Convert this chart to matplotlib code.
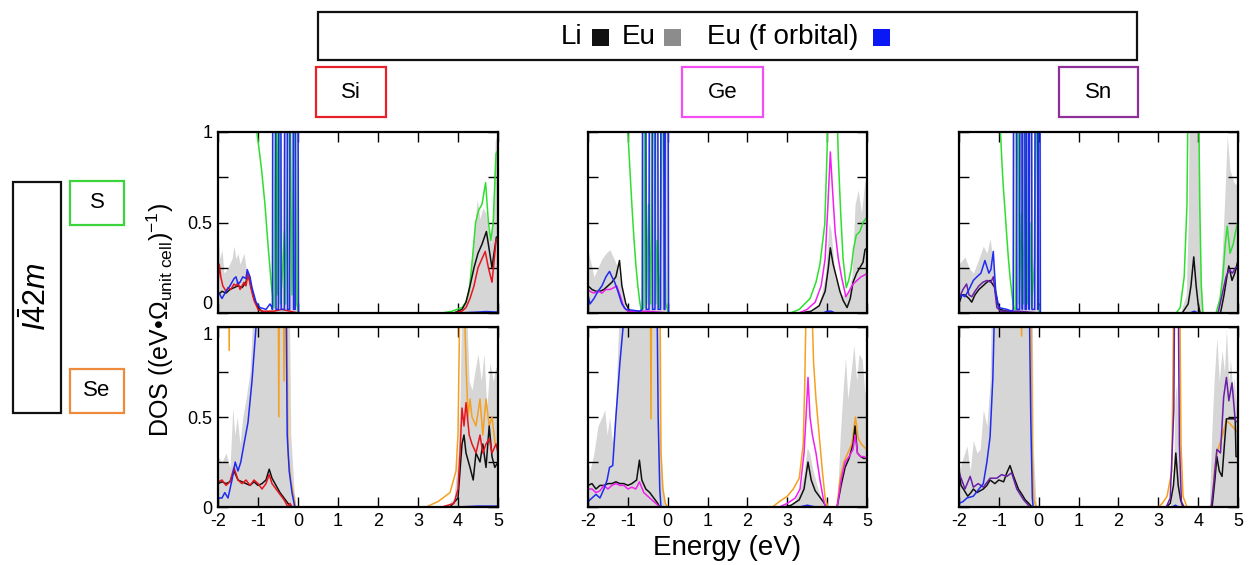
import numpy as np
import matplotlib
matplotlib.use("Agg")
import matplotlib.pyplot as plt
from matplotlib.patches import Rectangle

plt.rcParams["font.family"] = ["Liberation Sans", "DejaVu Sans"]
plt.rcParams["mathtext.fontset"] = "custom"
plt.rcParams["mathtext.rm"] = "Liberation Sans"
plt.rcParams["mathtext.it"] = "Liberation Sans:italic"

# (energy eV, DOS) pairs for every curve; values > 1 run off the top of the axes
# ---- Si, S
si_s_eu = [(-2.0, 0.45), (-1.95, 0.3), (-1.9, 0.35), (-1.85, 0.22), (-1.75, 0.25), (-1.65, 0.3),
           (-1.6, 0.37), (-1.55, 0.3), (-1.5, 0.33), (-1.45, 0.27), (-1.4, 0.3), (-1.35, 0.33),
           (-1.3, 0.25), (-1.25, 0.2), (-1.2, 0.18), (-1.15, 0.1), (-1.05, 0.03), (-0.95, 0.01),
           (-0.7, 0.02), (-0.64, 0.05), (-0.62, 1.5), (-0.54, 1.5), (-0.52, 0.4), (-0.5, 1.5),
           (-0.42, 1.5), (-0.4, 0.3), (-0.36, 1.5), (-0.26, 1.5), (-0.24, 0.3), (-0.21, 1.5),
           (-0.1, 1.5), (-0.08, 0.5), (-0.07, 1.5), (0.0, 1.5), (0.03, 0.0), (3.7, 0.0), (3.9, 0.01),
           (4.1, 0.03), (4.2, 0.08), (4.3, 0.2), (4.4, 0.45), (4.48, 0.63), (4.55, 0.52), (4.62, 0.58),
           (4.7, 0.55), (4.76, 0.45), (4.82, 0.38), (4.88, 0.6), (4.93, 0.95), (5.0, 1.0)]
si_s_li = [(-2.0, 0.1), (-1.9, 0.12), (-1.8, 0.11), (-1.7, 0.13), (-1.6, 0.14), (-1.5, 0.15),
           (-1.4, 0.14), (-1.3, 0.17), (-1.25, 0.22), (-1.2, 0.17), (-1.1, 0.08), (-1.0, 0.03),
           (-0.9, 0.01), (-0.8, 0.0), (3.9, 0.0), (4.1, 0.02), (4.2, 0.06), (4.3, 0.15), (4.4, 0.25),
           (4.5, 0.33), (4.6, 0.38), (4.71, 0.45), (4.78, 0.35), (4.85, 0.25), (4.9, 0.33),
           (4.96, 0.42), (5.0, 0.4)]
si_s_euf = [(-2.0, 0.12), (-1.95, 0.1), (-1.9, 0.08), (-1.8, 0.12), (-1.7, 0.15), (-1.6, 0.19),
            (-1.55, 0.2), (-1.5, 0.16), (-1.45, 0.17), (-1.38, 0.2), (-1.3, 0.19), (-1.27, 0.24),
            (-1.2, 0.2), (-1.15, 0.14), (-1.05, 0.06), (-0.95, 0.03), (-0.8, 0.02), (-0.7, 0.05),
            (-0.65, 0.03), (-0.64, 0.02), (-0.63, 1.5), (-0.56, 1.5), (-0.55, 0.02), (-0.49, 0.02),
            (-0.48, 1.5), (-0.43, 1.5), (-0.42, 0.02), (-0.34, 0.02), (-0.33, 1.5), (-0.27, 1.5),
            (-0.26, 0.02), (-0.21, 0.02), (-0.2, 1.5), (-0.12, 1.5), (-0.11, 0.02), (-0.07, 0.02),
            (-0.06, 1.5), (0.0, 1.5), (0.01, 0.0), (4.0, 0.0), (4.5, 0.005), (4.7, 0.008), (5.0, 0.005)]
si_s_s = [(-2.0, 1.5), (-1.05, 1.5), (-1.03, 1.0), (-0.97, 0.9), (-0.91, 0.79), (-0.83, 0.61),
          (-0.74, 0.35), (-0.66, 0.14), (-0.6, 0.03), (-0.55, 1.5), (-0.52, 0.1), (-0.48, 1.5),
          (-0.44, 0.05), (-0.38, 0.25), (-0.34, 0.45), (-0.31, 0.05), (-0.22, 1.5), (-0.15, 0.1),
          (-0.09, 1.5), (-0.03, 0.05), (0.02, 0.0), (3.6, 0.0), (3.85, 0.01), (4.1, 0.03), (4.2, 0.06),
          (4.28, 0.12), (4.36, 0.3), (4.44, 0.5), (4.52, 0.57), (4.6, 0.6), (4.69, 0.72), (4.76, 0.5),
          (4.82, 0.4), (4.88, 0.5), (4.95, 0.88), (5.0, 0.9)]
si_s_si = [(-2.0, 0.15), (-1.97, 0.27), (-1.93, 0.2), (-1.88, 0.15), (-1.8, 0.12), (-1.75, 0.14),
           (-1.68, 0.13), (-1.6, 0.16), (-1.55, 0.15), (-1.5, 0.17), (-1.45, 0.13), (-1.4, 0.15),
           (-1.35, 0.17), (-1.3, 0.15), (-1.25, 0.22), (-1.18, 0.14), (-1.1, 0.07), (-1.0, 0.02),
           (-0.9, 0.01), (-0.6, 0.01), (-0.4, 0.02), (-0.2, 0.01), (0.0, 0.0), (3.9, 0.0), (4.1, 0.01),
           (4.2, 0.03), (4.3, 0.08), (4.4, 0.15), (4.5, 0.25), (4.6, 0.3), (4.68, 0.34), (4.76, 0.25),
           (4.85, 0.17), (4.9, 0.28), (4.95, 0.4), (5.0, 0.42)]

# ---- Si, Se
si_se_eu = [(-2.0, 0.28), (-1.9, 0.25), (-1.8, 0.3), (-1.7, 0.22), (-1.63, 0.55), (-1.58, 0.4),
            (-1.52, 0.5), (-1.45, 0.35), (-1.38, 0.5), (-1.3, 0.6), (-1.2, 0.75), (-1.1, 1.2),
            (-0.22, 1.2), (-0.18, 0.4), (-0.1, 0.1), (-0.05, 0.0), (3.7, 0.0), (3.9, 0.05), (4.0, 0.3),
            (4.05, 0.6), (4.1, 1.2), (4.2, 1.2), (4.28, 0.7), (4.35, 0.65), (4.42, 0.75), (4.5, 0.85),
            (4.58, 0.7), (4.65, 0.85), (4.72, 0.55), (4.8, 0.8), (4.88, 0.7), (4.95, 0.78), (5.0, 0.75)]
si_se_li = [(-2.0, 0.13), (-1.9, 0.14), (-1.8, 0.13), (-1.7, 0.14), (-1.6, 0.2), (-1.5, 0.15),
            (-1.4, 0.14), (-1.3, 0.13), (-1.2, 0.12), (-1.1, 0.14), (-1.0, 0.12), (-0.9, 0.13),
            (-0.8, 0.15), (-0.72, 0.21), (-0.65, 0.16), (-0.55, 0.12), (-0.45, 0.08), (-0.35, 0.05),
            (-0.25, 0.02), (-0.15, 0.0), (3.8, 0.0), (4.0, 0.05), (4.05, 0.2), (4.1, 0.35), (4.15, 0.4),
            (4.2, 0.3), (4.3, 0.22), (4.38, 0.15), (4.45, 0.3), (4.55, 0.25), (4.62, 0.35), (4.7, 0.22),
            (4.78, 0.45), (4.85, 0.28), (4.92, 0.22), (5.0, 0.25)]
si_se_euf = [(-2.0, 0.05), (-1.9, 0.05), (-1.83, 0.08), (-1.75, 0.05), (-1.65, 0.15), (-1.57, 0.25),
             (-1.5, 0.2), (-1.43, 0.25), (-1.35, 0.35), (-1.25, 0.47), (-1.15, 0.7), (-1.05, 1.0),
             (-0.95, 1.2), (-0.3, 1.2), (-0.27, 0.4), (-0.22, 0.2), (-0.15, 0.08), (-0.08, 0.0),
             (4.0, 0.0), (4.5, 0.005), (5.0, 0.005)]
si_se_se = [(-2.0, 1.5), (-1.74, 1.5), (-1.72, 0.87), (-1.7, 1.5), (-0.5, 1.5), (-0.48, 0.5),
            (-0.46, 1.5), (-0.37, 1.5), (-0.35, 0.7), (-0.33, 1.5), (-0.28, 1.2), (-0.25, 0.3),
            (-0.18, 0.15), (-0.1, 0.05), (-0.06, 0.0), (3.2, 0.0), (3.5, 0.03), (3.8, 0.08), (3.95, 0.2),
            (4.0, 0.4), (4.05, 1.2), (4.15, 1.2), (4.2, 0.8), (4.25, 0.5), (4.3, 0.6), (4.35, 0.5),
            (4.45, 0.45), (4.55, 0.6), (4.62, 0.4), (4.7, 0.6), (4.78, 0.45), (4.85, 0.5), (4.93, 0.35),
            (5.0, 0.35)]
si_se_si = [(-2.0, 0.14), (-1.9, 0.15), (-1.8, 0.12), (-1.7, 0.14), (-1.6, 0.22), (-1.5, 0.15),
            (-1.4, 0.13), (-1.3, 0.15), (-1.2, 0.12), (-1.1, 0.15), (-1.0, 0.13), (-0.9, 0.1),
            (-0.8, 0.13), (-0.72, 0.18), (-0.65, 0.13), (-0.55, 0.1), (-0.45, 0.07), (-0.35, 0.04),
            (-0.25, 0.0), (-0.2, 0.02), (-0.15, 0.0), (3.6, 0.0), (3.9, 0.02), (4.0, 0.1), (4.05, 0.3),
            (4.1, 0.55), (4.15, 0.45), (4.2, 0.58), (4.28, 0.4), (4.35, 0.35), (4.45, 0.3), (4.55, 0.4),
            (4.62, 0.3), (4.7, 0.35), (4.78, 0.38), (4.85, 0.3), (4.95, 0.35), (5.0, 0.3)]

# ---- Ge, S
ge_s_eu = [(-2.0, 0.35), (-1.95, 0.3), (-1.85, 0.2), (-1.75, 0.25), (-1.65, 0.3), (-1.55, 0.33),
           (-1.45, 0.35), (-1.35, 0.3), (-1.25, 0.25), (-1.15, 0.12), (-1.05, 0.02), (-0.9, 0.0),
           (-0.7, 0.01), (-0.65, 0.05), (-0.63, 1.5), (-0.54, 1.5), (-0.52, 0.3), (-0.46, 1.5),
           (-0.38, 1.5), (-0.36, 0.3), (-0.31, 1.5), (-0.25, 1.5), (-0.23, 0.3), (-0.17, 1.5),
           (-0.1, 1.5), (-0.08, 0.3), (-0.06, 1.5), (0.01, 1.5), (0.03, 0.0), (3.6, 0.0), (3.8, 0.05),
           (3.95, 0.2), (4.05, 0.5), (4.1, 0.45), (4.2, 0.2), (4.35, 0.1), (4.5, 0.1), (4.62, 0.2),
           (4.7, 0.6), (4.78, 0.68), (4.86, 0.55), (4.94, 0.72), (5.0, 0.75)]
ge_s_li = [(-2.0, 0.15), (-1.9, 0.13), (-1.8, 0.12), (-1.7, 0.12), (-1.6, 0.13), (-1.5, 0.15),
           (-1.4, 0.17), (-1.3, 0.2), (-1.25, 0.25), (-1.21, 0.29), (-1.15, 0.15), (-1.05, 0.05),
           (-0.95, 0.01), (-0.8, 0.0), (3.3, 0.0), (3.6, 0.01), (3.8, 0.04), (3.95, 0.12), (4.03, 0.25),
           (4.08, 0.36), (4.15, 0.27), (4.23, 0.2), (4.32, 0.12), (4.4, 0.07), (4.5, 0.03), (4.58, 0.08),
           (4.65, 0.17), (4.74, 0.22), (4.82, 0.25), (4.9, 0.28), (4.95, 0.35), (5.0, 0.36)]
ge_s_euf = [(-2.0, 0.1), (-1.95, 0.05), (-1.85, 0.08), (-1.75, 0.12), (-1.65, 0.15), (-1.55, 0.2),
            (-1.46, 0.23), (-1.4, 0.2), (-1.33, 0.17), (-1.25, 0.12), (-1.15, 0.05), (-1.05, 0.02),
            (-0.7, 0.01), (-0.64, 0.02), (-0.63, 1.5), (-0.55, 1.5), (-0.54, 0.02), (-0.47, 0.02),
            (-0.46, 1.5), (-0.39, 1.5), (-0.38, 0.02), (-0.32, 0.02), (-0.31, 1.5), (-0.25, 1.5),
            (-0.24, 0.02), (-0.18, 0.02), (-0.17, 1.5), (-0.1, 1.5), (-0.09, 0.02), (-0.07, 0.02),
            (-0.06, 1.5), (0.01, 1.5), (0.02, 0.0), (3.9, 0.0), (4.0, 0.01), (4.1, 0.01),
            (4.2, 0.0), (5.0, 0.0)]
ge_s_s = [(-2.0, 1.5), (-1.02, 1.5), (-1.0, 1.0), (-0.95, 0.8), (-0.9, 0.6), (-0.85, 0.42),
          (-0.8, 0.27), (-0.75, 0.15), (-0.7, 0.06), (-0.66, 0.01), (-0.6, 0.03), (-0.57, 1.5),
          (-0.53, 0.05), (-0.48, 0.6), (-0.43, 0.05), (-0.36, 1.5), (-0.3, 0.05), (-0.27, 0.4),
          (-0.2, 0.03), (-0.12, 1.5), (-0.05, 0.05), (0.03, 0.0), (3.08, 0.0), (3.3, 0.02), (3.57, 0.08),
          (3.72, 0.17), (3.82, 0.27), (3.94, 0.49), (4.0, 0.9), (4.03, 1.5), (4.2, 1.5), (4.28, 0.86),
          (4.34, 0.55), (4.4, 0.3), (4.48, 0.14), (4.54, 0.18), (4.6, 0.24), (4.66, 0.35), (4.73, 0.43),
          (4.82, 0.45), (4.9, 0.5), (5.0, 0.53)]
ge_s_ge = [(-2.0, 0.13), (-1.95, 0.12), (-1.85, 0.11), (-1.75, 0.12), (-1.65, 0.11), (-1.55, 0.13),
           (-1.45, 0.13), (-1.35, 0.14), (-1.28, 0.15), (-1.2, 0.1), (-1.1, 0.03), (-1.0, 0.01),
           (-0.5, 0.01), (0.0, 0.0), (3.29, 0.0), (3.5, 0.02), (3.7, 0.06), (3.85, 0.15), (3.95, 0.3),
           (4.02, 0.6), (4.08, 0.89), (4.13, 0.7), (4.2, 0.45), (4.28, 0.3), (4.36, 0.2), (4.47, 0.09),
           (4.55, 0.12), (4.65, 0.16), (4.75, 0.18), (4.85, 0.2), (4.94, 0.21), (5.0, 0.22)]

# ---- Ge, Se
ge_se_eu = [(-2.0, 0.25), (-1.95, 0.2), (-1.85, 0.3), (-1.75, 0.45), (-1.65, 0.5), (-1.58, 0.54),
            (-1.52, 0.4), (-1.46, 0.5), (-1.38, 0.35), (-1.3, 0.6), (-1.2, 1.2), (-0.22, 1.2),
            (-0.18, 0.4), (-0.12, 0.1), (-0.05, 0.0), (3.1, 0.0), (3.3, 0.08), (3.42, 0.2), (3.5, 0.33),
            (3.56, 0.3), (3.65, 0.2), (3.75, 0.12), (3.85, 0.05), (3.95, 0.0), (4.25, 0.0), (4.33, 0.4),
            (4.4, 0.65), (4.46, 0.83), (4.52, 0.6), (4.6, 0.75), (4.67, 0.9), (4.74, 0.7), (4.8, 0.85),
            (4.88, 0.82), (4.94, 0.65), (5.0, 0.6)]
ge_se_li = [(-2.0, 0.12), (-1.9, 0.13), (-1.8, 0.1), (-1.7, 0.12), (-1.6, 0.12), (-1.5, 0.13),
            (-1.4, 0.13), (-1.3, 0.14), (-1.2, 0.13), (-1.1, 0.13), (-1.0, 0.12), (-0.9, 0.13),
            (-0.78, 0.15), (-0.71, 0.26), (-0.65, 0.15), (-0.55, 0.1), (-0.45, 0.08), (-0.35, 0.05),
            (-0.25, 0.02), (-0.2, 0.0), (2.9, 0.0), (3.1, 0.01), (3.3, 0.04), (3.42, 0.1), (3.52, 0.25),
            (3.6, 0.15), (3.7, 0.09), (3.8, 0.06), (3.9, 0.03), (3.98, 0.0), (4.25, 0.0), (4.35, 0.12),
            (4.45, 0.22), (4.55, 0.27), (4.65, 0.35), (4.7, 0.45), (4.76, 0.3), (4.84, 0.28),
            (4.92, 0.27), (5.0, 0.27)]
ge_se_euf = [(-2.0, 0.03), (-1.9, 0.05), (-1.8, 0.07), (-1.7, 0.05), (-1.6, 0.1), (-1.52, 0.15),
             (-1.46, 0.22), (-1.38, 0.23), (-1.3, 0.5), (-1.2, 0.8), (-1.12, 1.0), (-1.05, 1.2),
             (-0.27, 1.2), (-0.24, 0.5), (-0.2, 0.1), (-0.17, 0.0), (3.3, 0.0), (3.5, 0.01), (3.7, 0.0),
             (5.0, 0.0)]
ge_se_se = [(-2.0, 1.5), (-0.44, 1.5), (-0.42, 0.49), (-0.4, 1.5), (-0.2, 1.5), (-0.17, 0.3),
            (-0.12, 0.1), (-0.06, 0.02), (0.0, 0.0), (2.63, 0.0), (2.8, 0.03), (3.0, 0.06), (3.15, 0.1),
            (3.3, 0.16), (3.4, 0.35), (3.44, 0.7), (3.47, 1.1), (3.62, 1.1), (3.66, 0.8), (3.72, 0.6),
            (3.8, 0.4), (3.88, 0.2), (3.95, 0.05), (4.02, 0.0), (4.25, 0.0), (4.32, 0.15), (4.42, 0.25),
            (4.52, 0.3), (4.62, 0.35), (4.71, 0.5), (4.78, 0.38), (4.86, 0.35), (4.94, 0.33), (5.0, 0.32)]
ge_se_ge = [(-2.0, 0.1), (-1.9, 0.1), (-1.8, 0.08), (-1.7, 0.09), (-1.6, 0.12), (-1.5, 0.1),
            (-1.4, 0.12), (-1.3, 0.13), (-1.2, 0.12), (-1.1, 0.12), (-1.0, 0.1), (-0.9, 0.11),
            (-0.8, 0.1), (-0.71, 0.14), (-0.6, 0.08), (-0.5, 0.06), (-0.4, 0.04), (-0.3, 0.02),
            (-0.2, 0.0), (2.8, 0.0), (3.0, 0.02), (3.2, 0.05), (3.32, 0.1), (3.42, 0.3), (3.47, 0.5),
            (3.52, 0.72), (3.57, 0.5), (3.63, 0.4), (3.72, 0.3), (3.82, 0.15), (3.9, 0.05), (3.96, 0.0),
            (4.25, 0.0), (4.35, 0.15), (4.45, 0.25), (4.55, 0.28), (4.65, 0.32), (4.7, 0.4), (4.76, 0.3),
            (4.84, 0.28), (4.92, 0.28), (5.0, 0.27)]

# ---- Sn, S
sn_s_eu = [(-2.0, 0.27), (-1.85, 0.31), (-1.75, 0.25), (-1.64, 0.22), (-1.5, 0.3), (-1.39, 0.37),
           (-1.3, 0.33), (-1.22, 0.41), (-1.15, 0.3), (-1.08, 0.15), (-1.01, 0.03), (-0.9, 0.0),
           (-0.7, 0.01), (-0.65, 0.05), (-0.63, 1.5), (-0.54, 1.5), (-0.52, 0.3), (-0.47, 1.5),
           (-0.34, 1.5), (-0.32, 0.3), (-0.3, 1.5), (-0.17, 1.5), (-0.15, 0.3), (-0.09, 1.5),
           (0.04, 1.5), (0.06, 0.0), (3.55, 0.0), (3.7, 0.1), (3.75, 0.5), (3.78, 1.2), (4.02, 1.2),
           (4.06, 0.2), (4.12, 0.0), (4.45, 0.0), (4.55, 0.1), (4.62, 0.4), (4.68, 0.7), (4.73, 0.98),
           (4.8, 0.79), (4.9, 0.72), (5.0, 0.7)]
sn_s_li = [(-2.0, 0.05), (-1.93, 0.1), (-1.85, 0.1), (-1.75, 0.08), (-1.68, 0.06), (-1.6, 0.1),
           (-1.5, 0.13), (-1.4, 0.15), (-1.3, 0.17), (-1.22, 0.18), (-1.1, 0.14), (-1.03, 0.05),
           (-0.97, 0.02), (-0.8, 0.01), (-0.5, 0.0), (3.6, 0.0), (3.75, 0.05), (3.82, 0.15), (3.89, 0.31),
           (3.95, 0.15), (4.0, 0.05), (4.05, 0.0), (4.56, 0.0), (4.65, 0.1), (4.72, 0.2), (4.77, 0.26),
           (4.85, 0.18), (4.92, 0.22), (5.0, 0.29)]
sn_s_euf = [(-2.0, 0.08), (-1.93, 0.1), (-1.85, 0.09), (-1.75, 0.13), (-1.64, 0.18), (-1.55, 0.2),
            (-1.45, 0.22), (-1.35, 0.29), (-1.25, 0.22), (-1.2, 0.24), (-1.14, 0.34), (-1.08, 0.12),
            (-1.0, 0.03), (-0.8, 0.02), (-0.67, 0.01), (-0.64, 0.02), (-0.63, 1.5), (-0.56, 1.5),
            (-0.55, 0.02), (-0.48, 0.02), (-0.47, 1.5), (-0.42, 1.5), (-0.41, 0.02), (-0.4, 1.5),
            (-0.35, 1.5), (-0.34, 0.02), (-0.31, 0.02), (-0.3, 1.5), (-0.25, 1.5), (-0.24, 0.02),
            (-0.23, 1.5), (-0.18, 1.5), (-0.17, 0.02), (-0.1, 0.02), (-0.09, 1.5), (-0.03, 1.5),
            (-0.02, 0.02), (-0.01, 1.5), (0.03, 1.5), (0.04, 0.0), (3.8, 0.0), (3.9, 0.01), (4.0, 0.0),
            (5.0, 0.0)]
sn_s_s = [(-2.0, 1.5), (-0.98, 1.5), (-0.96, 1.0), (-0.92, 0.82), (-0.89, 0.7), (-0.84, 0.55),
          (-0.8, 0.42), (-0.76, 0.3), (-0.72, 0.2), (-0.67, 0.1), (-0.63, 0.03), (-0.58, 0.02),
          (-0.52, 1.5), (-0.49, 0.05), (-0.43, 0.55), (-0.38, 0.05), (-0.33, 1.5), (-0.28, 0.05),
          (-0.22, 0.5), (-0.18, 0.03), (-0.1, 0.3), (-0.06, 1.5), (0.0, 0.05), (0.04, 0.0), (3.45, 0.0),
          (3.55, 0.03), (3.65, 0.2), (3.72, 0.6), (3.76, 1.5), (4.0, 1.5), (4.04, 0.6), (4.08, 0.15),
          (4.12, 0.0), (4.45, 0.0), (4.55, 0.08), (4.62, 0.2), (4.68, 0.38), (4.73, 0.48), (4.8, 0.33),
          (4.88, 0.38), (4.94, 0.45), (5.0, 0.51)]
sn_s_sn = [(-2.0, 0.08), (-1.9, 0.13), (-1.81, 0.16), (-1.75, 0.1), (-1.68, 0.09), (-1.6, 0.12),
           (-1.5, 0.15), (-1.4, 0.17), (-1.3, 0.18), (-1.2, 0.17), (-1.14, 0.2), (-1.05, 0.03),
           (-0.95, 0.01), (-0.5, 0.01), (0.0, 0.0), (4.5, 0.0), (4.6, 0.1), (4.7, 0.2), (4.78, 0.24),
           (4.86, 0.22), (4.94, 0.25), (5.0, 0.26)]

# ---- Sn, Se
sn_se_eu = [(-2.0, 0.2), (-1.93, 0.25), (-1.8, 0.34), (-1.72, 0.2), (-1.64, 0.37), (-1.55, 0.3),
            (-1.47, 0.32), (-1.39, 0.54), (-1.3, 0.45), (-1.22, 0.7), (-1.18, 1.2), (-0.17, 1.2),
            (-0.13, 0.3), (-0.08, 0.08), (-0.05, 0.0), (3.3, 0.0), (3.38, 0.15), (3.42, 0.6), (3.46, 0.69),
            (3.5, 0.4), (3.55, 0.05), (3.6, 0.0), (4.28, 0.0), (4.34, 0.4), (4.4, 0.7), (4.47, 0.94),
            (4.53, 0.7), (4.6, 0.87), (4.66, 0.75), (4.71, 0.99), (4.77, 0.7), (4.81, 0.82), (4.87, 0.65),
            (4.9, 0.72), (5.0, 0.45)]
sn_se_li = [(-2.0, 0.21), (-1.95, 0.12), (-1.89, 0.1), (-1.78, 0.06), (-1.7, 0.08), (-1.64, 0.1),
            (-1.55, 0.08), (-1.47, 0.09), (-1.39, 0.1), (-1.3, 0.12), (-1.22, 0.15), (-1.1, 0.13),
            (-1.0, 0.15), (-0.88, 0.14), (-0.8, 0.19), (-0.72, 0.23), (-0.63, 0.17), (-0.51, 0.1),
            (-0.42, 0.07), (-0.34, 0.04), (-0.25, 0.02), (-0.17, 0.0), (3.2, 0.0), (3.3, 0.02),
            (3.38, 0.12), (3.44, 0.3), (3.5, 0.12), (3.56, 0.04), (3.62, 0.0), (4.35, 0.0), (4.42, 0.15),
            (4.47, 0.28), (4.53, 0.2), (4.6, 0.17), (4.66, 0.35), (4.71, 0.49), (4.93, 0.49),
            (4.95, 0.28), (5.0, 0.28)]
sn_se_euf = [(-2.0, 0.02), (-1.9, 0.03), (-1.8, 0.05), (-1.64, 0.06), (-1.5, 0.1), (-1.39, 0.13),
             (-1.3, 0.25), (-1.22, 0.39), (-1.15, 0.72), (-1.12, 1.0), (-1.08, 1.2), (-0.24, 1.2),
             (-0.2, 0.5), (-0.16, 0.05), (-0.14, 0.0), (3.35, 0.0), (3.43, 0.01), (3.5, 0.0), (5.0, 0.0)]
sn_se_se = [(-2.0, 1.5), (-0.45, 1.5), (-0.43, 0.95), (-0.41, 1.5), (-0.2, 1.5), (-0.16, 0.3),
            (-0.12, 0.04), (-0.06, 0.0), (3.0, 0.0), (3.1, 0.02), (3.22, 0.06), (3.34, 0.2), (3.39, 1.2),
            (3.54, 1.2), (3.57, 0.35), (3.62, 0.06), (3.72, 0.0), (4.3, 0.0), (4.35, 0.02), (4.41, 0.2),
            (4.47, 0.3), (4.6, 0.39), (4.71, 0.48), (4.81, 0.46), (4.93, 0.43), (5.0, 0.41)]
sn_se_sn = [(-2.0, 0.19), (-1.93, 0.15), (-1.85, 0.1), (-1.72, 0.17), (-1.64, 0.11), (-1.52, 0.13),
            (-1.39, 0.11), (-1.22, 0.16), (-1.05, 0.16), (-0.93, 0.18), (-0.8, 0.17), (-0.68, 0.19),
            (-0.55, 0.1), (-0.38, 0.04), (-0.22, 0.0), (3.2, 0.0), (3.3, 0.05), (3.39, 0.54), (3.41, 1.2),
            (3.5, 1.2), (3.53, 0.35), (3.58, 0.03), (3.65, 0.0), (4.33, 0.0), (4.4, 0.15), (4.47, 0.32),
            (4.56, 0.3), (4.64, 0.61), (4.71, 0.72), (4.77, 0.59), (4.85, 0.69), (4.93, 0.48), (5.0, 0.47)]

tetrels = ["Si", "Ge", "Sn"]
anions = ["S", "Se"]
y_ticks = [0, 0.25, 0.5, 0.75, 1]
y_ticklabels = ["0", "", "0.5", "", "1"]
x_ticks = [-2, -1, 0, 1, 2, 3, 4, 5]

EU_GRAY = "#d6d6d6"
LI_BLACK = "#111111"
EUF_BLUE = "#1f2cf0"
tetrel_colors = {"Si": "#e8141e", "Ge": "#f020f0", "Sn": "#6a1fa8"}
anion_colors = {"S": "#2ee02e", "Se": "#f5a020"}
tetrel_box = {"Si": "#e82028", "Ge": "#f24ef2", "Sn": "#8e2f9a"}
anion_box = {"S": "#3cd43c", "Se": "#ee8a3c"}

# (row, col) -> curves: Eu total, Li, anion, tetrel, Eu f
panels = {
    (0, 0): (si_s_eu, si_s_li, si_s_s, si_s_si, si_s_euf),
    (1, 0): (si_se_eu, si_se_li, si_se_se, si_se_si, si_se_euf),
    (0, 1): (ge_s_eu, ge_s_li, ge_s_s, ge_s_ge, ge_s_euf),
    (1, 1): (ge_se_eu, ge_se_li, ge_se_se, ge_se_ge, ge_se_euf),
    (0, 2): (sn_s_eu, sn_s_li, sn_s_s, sn_s_sn, sn_s_euf),
    (1, 2): (sn_se_eu, sn_se_li, sn_se_se, sn_se_sn, sn_se_euf),
}

W, H = 1249, 565
fig = plt.figure(figsize=(W / 100, H / 100), dpi=100)


def px_box(x0, y0, x1, y1):
    """pixel box (top-left origin) -> figure fraction [left, bottom, width, height]"""
    return [x0 / W, 1 - y1 / H, (x1 - x0) / W, (y1 - y0) / H]


def xy(series):
    a = np.array(series)
    return a[:, 0], a[:, 1]


col_x = [(218, 498), (588, 867), (959, 1238)]
row_y = [(132, 313), (327, 507)]

for (r, c), (eu, li, an, te, euf) in panels.items():
    ax = fig.add_axes(px_box(col_x[c][0], row_y[r][0], col_x[c][1], row_y[r][1]))
    e, v = xy(eu)
    ax.fill_between(e, 0, v, color=EU_GRAY, lw=0)
    e, v = xy(an)
    ax.plot(e, v, color=anion_colors[anions[r]], lw=1.1)
    e, v = xy(li)
    ax.plot(e, v, color=LI_BLACK, lw=1.1)
    e, v = xy(te)
    ax.plot(e, v, color=tetrel_colors[tetrels[c]], lw=1.1)
    e, v = xy(euf)
    ax.plot(e, v, color=EUF_BLUE, lw=1.1)

    ax.set_xlim(-2, 5)
    ax.set_ylim(0, 1)
    ax.set_xticks(x_ticks)
    ax.set_yticks(y_ticks)
    ax.tick_params(direction="in", top=True, right=True, length=7, width=1,
                   labelsize=13, pad=4)
    if c == 0:
        ax.set_yticklabels(y_ticklabels)
        # keep the "0" of the upper row and the "1" of the lower row apart
        labels = ax.get_yticklabels()
        if r == 0:
            labels[0].set_verticalalignment("bottom")
        else:
            labels[-1].set_verticalalignment("top")
    else:
        ax.set_yticklabels([])
    if r == 1:
        ax.set_xticklabels([str(t) for t in x_ticks])
    else:
        ax.set_xticklabels([])
    for sp in ax.spines.values():
        sp.set_linewidth(1.6)


def frame(x0, y0, x1, y1, color):
    fig.patches.append(Rectangle((x0 / W, 1 - y1 / H), (x1 - x0) / W, (y1 - y0) / H,
                                 transform=fig.transFigure, fill=False,
                                 edgecolor=color, lw=1.6))


def ftext(x, y, s, **kw):
    fig.text(x / W, 1 - y / H, s, **kw)


# legend strip
frame(318, 12, 1137, 60, "#111111")
ftext(582, 37, "Li", fontsize=20, ha="right", va="center")
ftext(622, 37, "Eu", fontsize=20, ha="left", va="center")
ftext(707, 37, "Eu (f orbital)", fontsize=20, ha="left", va="center")
for x0, col in [(592, "#111111"), (664, "#8c8c8c"), (873, "#0a18f5")]:
    fig.patches.append(Rectangle((x0 / W, 1 - 46 / H), 17 / W, 17 / H,
                                 transform=fig.transFigure, color=col, lw=0))

# column / row labels
tetrel_frames = {"Si": (316, 386), "Ge": (682, 763), "Sn": (1059, 1138)}
for name in tetrels:
    x0, x1 = tetrel_frames[name]
    frame(x0, 67, x1, 117, tetrel_box[name])
    ftext((x0 + x1) / 2, 93, name, fontsize=16, ha="center", va="center")

anion_frames = {"S": (181, 225), "Se": (369, 413)}
for name in anions:
    y0, y1 = anion_frames[name]
    frame(70, y0, 124, y1, anion_box[name])
    ftext(97, (y0 + y1) / 2, name, fontsize=16, ha="center", va="center")

frame(13, 182, 61, 413, "#111111")
ftext(37, 297, r"$\mathit{I\bar{4}2m}$", fontsize=22, rotation=90,
      ha="center", va="center")

ftext(160, 320, r"DOS ((eV•$\Omega_{\mathrm{unit\ cell}}$)$^{-1}$)", fontsize=18,
      rotation=90, ha="center", va="center")
ftext(727, 548, "Energy (eV)", fontsize=20, ha="center", va="center")

fig.savefig("out.png", dpi=100)
